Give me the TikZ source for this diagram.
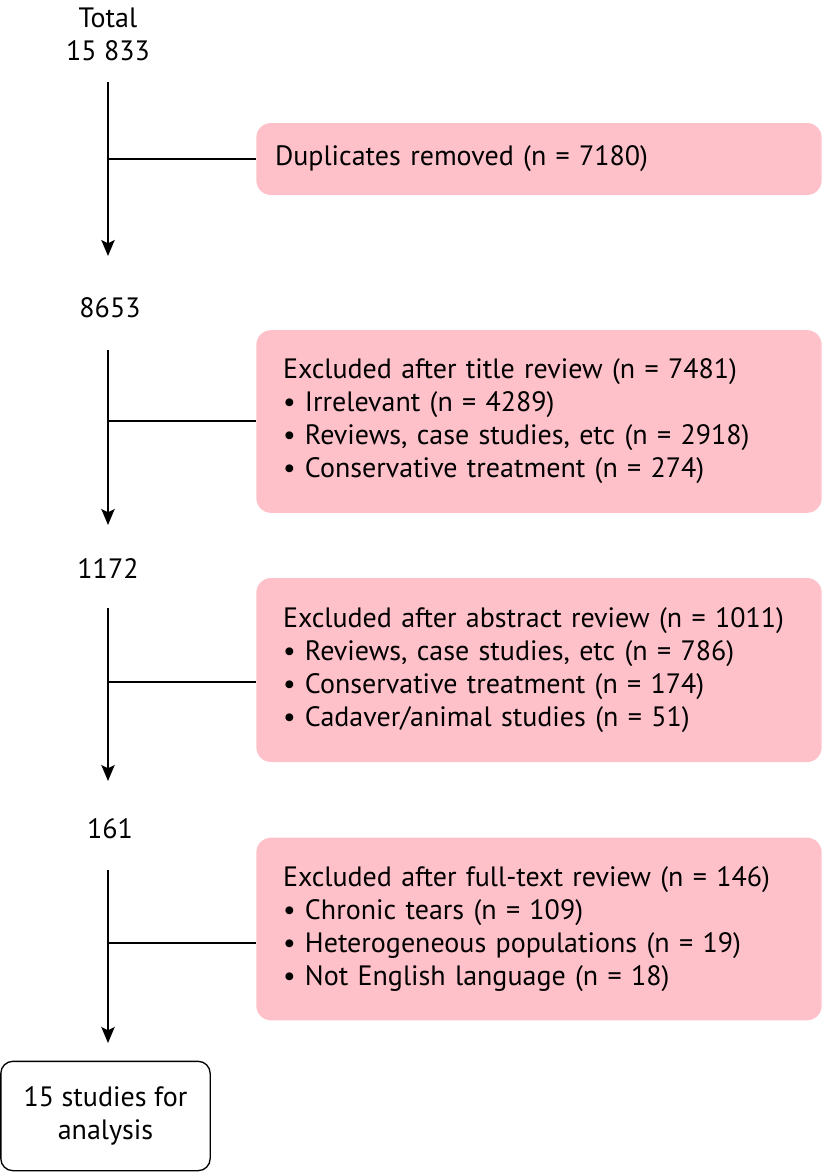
\documentclass[tikz,border=0pt]{standalone}
\usepackage{fontspec}
\setmainfont{PT Sans}
\usetikzlibrary{arrows.meta,positioning}
\definecolor{LightPink}{HTML}{FFC1C9}

\begin{document}
\begin{tikzpicture}[
  x=0.75pt,y=-0.75pt,
  font=\fontsize{21pt}{24.75pt}\selectfont,
  count/.style={inner sep=0pt,anchor=base},
  excl/.style={fill=LightPink,rounded corners=11pt,align=left,inner xsep=20pt,inner ysep=0pt,text width=384pt},
  final/.style={draw,line width=1pt,rounded corners=9pt,align=center,minimum width=157pt,minimum height=82pt,inner sep=0pt},
  arr/.style={-{Stealth[length=12pt,width=10pt,inset=2.5pt]},line width=1.5pt},
  link/.style={line width=1pt}
]
\useasboundingbox (0,0) rectangle (826,1172);
% counts along the trunk
\node[align=center,inner sep=0pt] (total) at (108,34) {Total\\15 833};
\node[count] (n2) at (110,317) {8653};
\node[count] (n3) at (108,578) {1172};
\node[count] (n4) at (110,838) {161};
% exclusion boxes
\node[excl,inner xsep=14pt,text width=396pt,minimum height=54pt] (dup) at (539,159) {Duplicates removed (n = 7180)};
\node[excl,minimum height=137pt] (title) at (539,421.5) {Excluded after title review (n = 7481)\\
\textbullet\ Irrelevant (n = 4289)\\
\textbullet\ Reviews, case studies, etc (n = 2918)\\
\textbullet\ Conservative treatment (n = 274)};
\node[excl,minimum height=138pt] (abstract) at (539,670) {Excluded after abstract review (n = 1011)\\
\textbullet\ Reviews, case studies, etc (n = 786)\\
\textbullet\ Conservative treatment (n = 174)\\
\textbullet\ Cadaver/animal studies (n = 51)};
\node[excl,minimum height=137pt] (fulltext) at (539,929) {Excluded after full-text review (n = 146)\\
\textbullet\ Chronic tears (n = 109)\\
\textbullet\ Heterogeneous populations (n = 19)\\
\textbullet\ Not English language (n = 18)};
\node[final] (result) at (105.5,1116) {15 studies for\\analysis};
% trunk segments
\coordinate (s1) at (108,82);  \coordinate (e1) at (108,256);
\coordinate (s2) at (108,350); \coordinate (e2) at (108,525);
\coordinate (s3) at (108,608); \coordinate (e3) at (108,781);
\coordinate (s4) at (108,870); \coordinate (e4) at (108,1043);
\coordinate (j1) at (108,159);
\coordinate (j2) at (108,421);
\coordinate (j3) at (108,682);
\coordinate (j4) at (108,943);
\draw[arr] (s1) -- (e1);
\draw[arr] (s2) -- (e2);
\draw[arr] (s3) -- (e3);
\draw[arr] (s4) -- (e4);
\draw[link] (j1) -- (j1 -| dup.west);
\draw[link] (j2) -- (j2 -| title.west);
\draw[link] (j3) -- (j3 -| abstract.west);
\draw[link] (j4) -- (j4 -| fulltext.west);
\end{tikzpicture}
\end{document}
